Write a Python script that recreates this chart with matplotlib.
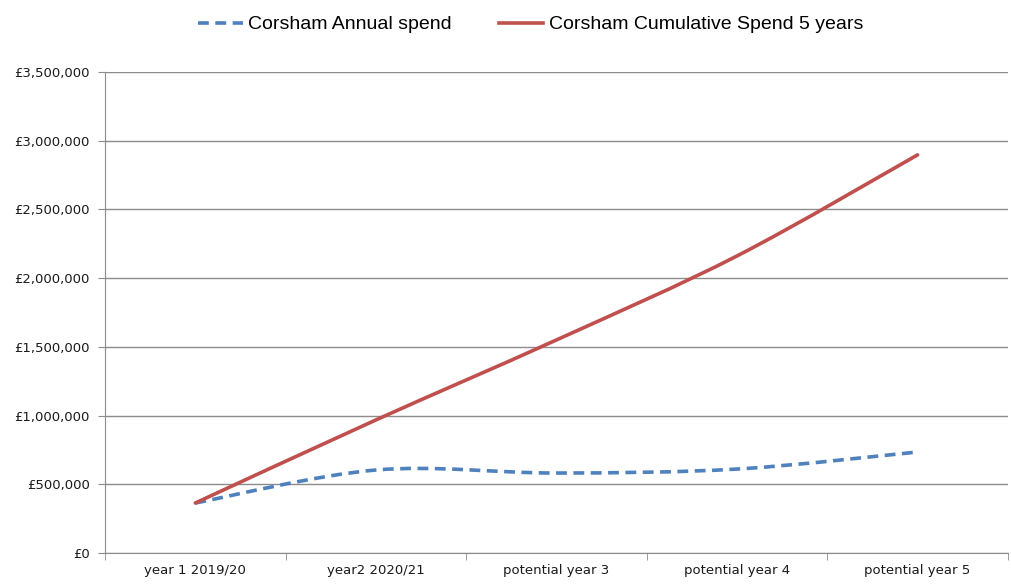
import numpy as np
import matplotlib
matplotlib.use("Agg")
import matplotlib.pyplot as plt
from matplotlib.path import Path
from matplotlib.patches import PathPatch
from matplotlib.lines import Line2D
from matplotlib.ticker import FuncFormatter, MultipleLocator

categories = ["year 1 2019/20", "year2 2020/21", "potential year 3", "potential year 4", "potential year 5"]
annual = [364000, 604000, 582000, 611000, 735000]
cumulative = [364000, 968000, 1550000, 2161000, 2896000]

blue = "#4F81BD"
red = "#C0504D"
grid_col = "#8C8C8C"


def smooth_path(xs, ys):
    # Excel-style smoothed line: cubic bezier through the points
    pts = np.column_stack([xs, ys]).astype(float)
    verts = [pts[0]]
    codes = [Path.MOVETO]
    n = len(pts)
    for i in range(n - 1):
        p0 = pts[i - 1] if i > 0 else pts[i]
        p1 = pts[i]
        p2 = pts[i + 1]
        p3 = pts[i + 2] if i + 2 < n else pts[i + 1]
        c1 = p1 + (p2 - p0) / 6.0
        c2 = p2 - (p3 - p1) / 6.0
        verts += [c1, c2, p2]
        codes += [Path.CURVE4] * 3
    return Path(verts, codes)


fig = plt.figure(figsize=(10.11, 5.84), dpi=100)
ax = fig.add_axes([0.1039, 0.053, 0.893, 0.824])

x = np.arange(len(categories))
dash = (0, (3.0, 1.8))
ax.add_patch(PathPatch(smooth_path(x, annual), fill=False, edgecolor=blue,
                       lw=2.6, linestyle=dash, capstyle="butt", zorder=3))
ax.add_patch(PathPatch(smooth_path(x, cumulative), fill=False, edgecolor=red,
                       lw=2.6, capstyle="round", zorder=4))

ax.set_xlim(-0.5, len(categories) - 0.5)
ax.set_ylim(0, 3500000)
ax.yaxis.set_major_locator(MultipleLocator(500000))
ax.yaxis.set_major_formatter(FuncFormatter(lambda v, p: "£{:,.0f}".format(v)))
ax.grid(axis="y", color=grid_col, lw=1)
ax.set_axisbelow(True)

ax.set_xticks(x)
ax.set_xticklabels(categories)
ax.set_xticks(np.arange(-0.5, len(categories)), minor=True)
ax.tick_params(axis="x", which="major", length=0, pad=8, labelsize=9.5, labelcolor="#1a1a1a")
ax.tick_params(axis="x", which="minor", length=5, color=grid_col, direction="out")
ax.tick_params(axis="y", length=5, color=grid_col, labelsize=9.5, labelcolor="#1a1a1a", pad=6)

for s in ["top", "right"]:
    ax.spines[s].set_visible(False)
ax.spines["left"].set_color(grid_col)
ax.spines["bottom"].set_color(grid_col)

handles = [Line2D([], [], color=blue, lw=2.6, linestyle=dash),
           Line2D([], [], color=red, lw=2.6)]
fig.legend(handles, ["Corsham Annual spend", "Corsham Cumulative Spend 5 years"],
           loc="upper center", bbox_to_anchor=(0.525, 1.003), ncol=2, frameon=False,
           prop={"family": ["Liberation Sans", "DejaVu Sans"], "size": 14},
           handlelength=2.3, handletextpad=0.3, columnspacing=2.4)

fig.savefig("out.png", dpi=100)
